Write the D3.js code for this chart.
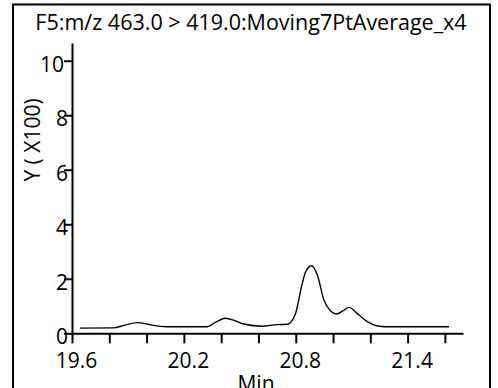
<!DOCTYPE html>
<html>
<head>
<meta charset="utf-8">
<script src="https://cdn.jsdelivr.net/npm/d3@7"></script>
<style>
  body { margin: 0; background: #fff; }
  svg { display: block; }
  text { font-family: "Open Sans", "Noto Sans", sans-serif; fill: #000; }
</style>
</head>
<body>
<div id="chart"></div>
<script>
// chromatogram trace, time (min) and intensity (x100)
const times = [19.643, 19.82, 19.885, 19.948, 20.009, 20.037, 20.109, 20.324, 20.374, 20.423,
  20.471, 20.521, 20.62, 20.70, 20.758, 20.775, 20.799, 20.835, 20.853, 20.885,
  20.916, 20.951, 20.987, 21.019, 21.052, 21.085, 21.139, 21.184, 21.238, 21.283, 21.622];
const intensity = [0.19, 0.20, 0.30, 0.39, 0.33, 0.29, 0.24, 0.24, 0.42, 0.55,
  0.47, 0.34, 0.26, 0.32, 0.33, 0.42, 0.73, 1.83, 2.26, 2.48,
  2.14, 1.22, 0.82, 0.71, 0.82, 0.95, 0.67, 0.43, 0.27, 0.24, 0.24];
const xTicks = [19.6, 19.8, 20.0, 20.2, 20.4, 20.6, 20.8, 21.0, 21.2, 21.4, 21.6];
const xLabels = [19.6, 20.2, 20.8, 21.4];
const yTicks = [0, 2, 4, 6, 8, 10];
const title = "F5:m/z 463.0 > 419.0:Moving7PtAverage_x4";

const W = 498, H = 388;
const svg = d3.select("#chart").append("svg").attr("width", W).attr("height", H);

// frame
svg.append("path")
  .attr("d", `M13,${H + 2}V4.5H490V${H + 2}`)
  .attr("fill", "none").attr("stroke", "#000").attr("stroke-width", 2);

const x = d3.scaleLinear().domain([19.6, 21.697]).range([72, 463]);
const y = d3.scaleLinear().domain([0, 10.65]).range([333.3, 43]);

// x axis
const gx = svg.append("g").attr("transform", `translate(0,${y(0)})`)
  .call(d3.axisBottom(x).tickValues(xTicks).tickSize(10).tickSizeOuter(0)
    .tickFormat(d => xLabels.some(v => Math.abs(v - d) < 1e-6) ? d3.format(".1f")(d) : ""));
gx.select(".domain").attr("stroke-width", 2);
gx.selectAll(".tick line").attr("stroke-width", 2);
gx.selectAll(".tick text").attr("font-size", 21).attr("font-family", null).attr("dx", 4)
  .attr("y", 0).attr("dy", 0).attr("transform", "translate(0,35)");

// y axis
const gy = svg.append("g").attr("transform", `translate(${x(19.6)},0)`)
  .call(d3.axisLeft(y).tickValues(yTicks).tickSize(8).tickSizeOuter(0).tickFormat(d3.format("d")));
gy.select(".domain").attr("stroke-width", 2);
gy.selectAll(".tick line").attr("stroke-width", 2);
gy.selectAll(".tick text").attr("font-size", 21).attr("font-family", null)
  .attr("x", d => d >= 10 ? -8 : -4).attr("dy", 10.5);

// trace
svg.append("path")
  .datum(times.map((t, i) => [t, intensity[i]]))
  .attr("fill", "none").attr("stroke", "#000").attr("stroke-width", 1.4)
  .attr("d", d3.line().x(d => x(d[0])).y(d => y(d[1])).curve(d3.curveMonotoneX));

// labels
svg.append("text").attr("x", 251).attr("y", 30).attr("text-anchor", "middle")
  .attr("font-size", 21.5).text(title);
svg.append("text").attr("x", 256).attr("y", 391).attr("text-anchor", "middle")
  .attr("font-size", 21).text("Min");
svg.append("text").attr("transform", "translate(40,140) rotate(-90)").attr("text-anchor", "middle")
  .attr("font-size", 21).text("Y ( X100)");
</script>
</body>
</html>
